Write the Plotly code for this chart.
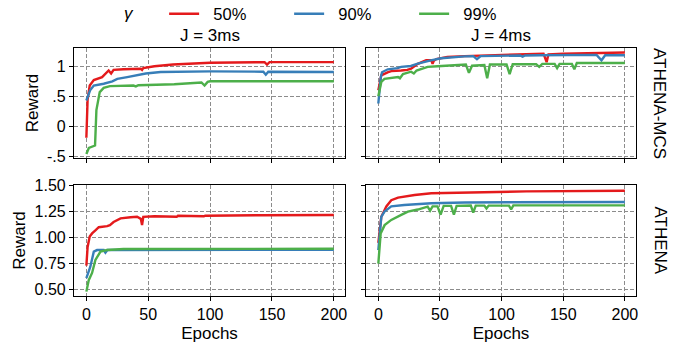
import plotly.graph_objects as go

# ---------------- data ----------------
gammas = ["50%", "90%", "99%"]
colors = ["#e41a1c", "#377eb8", "#4daf4a"]
col_titles = ["J = 3ms", "J = 4ms"]
row_titles = ["ATHENA-MCS", "ATHENA"]
x_ticks = [0, 50, 100, 150, 200]
mcs_ticks = [-0.5, 0, 0.5, 1]
mcs_tick_labels = ["-.5", "0", ".5", "1"]
ath_ticks = [0.5, 0.75, 1.0, 1.25, 1.5]
ath_tick_labels = ["0.50", "0.75", "1.00", "1.25", "1.50"]

# ATHENA-MCS, J = 3ms
mcs3_g50_x = [0, 1, 2.7, 6, 12.7, 16, 18, 20, 22, 30, 44, 45, 46, 55, 70, 100, 144, 146, 148, 200]
mcs3_g50_y = [-0.19, 0.45, 0.68, 0.77, 0.82, 0.88, 0.93, 0.88, 0.94, 0.95, 0.96, 0.94, 0.97, 1.0, 1.03, 1.06, 1.07, 1.03, 1.07, 1.07]
mcs3_g90_x = [0, 3, 6, 14, 21, 25, 33, 48, 60, 71, 100, 143, 145, 147, 200]
mcs3_g90_y = [0.43, 0.6, 0.68, 0.71, 0.75, 0.79, 0.82, 0.88, 0.905, 0.91, 0.915, 0.91, 0.86, 0.91, 0.905]
mcs3_g99_x = [0, 2, 7, 8.1, 10.8, 14, 19, 38, 40, 42, 71, 93, 95.5, 98, 100, 200]
mcs3_g99_y = [-0.46, -0.36, -0.32, 0.27, 0.57, 0.64, 0.67, 0.68, 0.665, 0.685, 0.7, 0.73, 0.68, 0.74, 0.75, 0.75]

# ATHENA-MCS, J = 4ms
mcs4_g50_x = [0, 2.4, 7.5, 10.5, 18.5, 23.5, 26.6, 32, 38.8, 43, 44, 45, 47, 51, 56, 70, 104, 134, 136.5, 138, 150, 200]
mcs4_g50_y = [0.6, 0.85, 0.9, 0.92, 0.93, 0.94, 0.96, 1.04, 1.1, 1.1, 1.04, 1.09, 1.12, 1.14, 1.155, 1.17, 1.19, 1.21, 1.07, 1.2, 1.21, 1.23]
mcs4_g90_x = [0, 2, 3, 7.7, 15.6, 18.5, 26.4, 32, 42.6, 51, 70, 77, 80, 83, 115, 117, 119, 131, 177, 181, 184, 200]
mcs4_g90_y = [0.38, 0.82, 0.9, 0.95, 0.97, 0.99, 1.005, 1.044, 1.1, 1.135, 1.165, 1.17, 1.12, 1.17, 1.18, 1.16, 1.18, 1.185, 1.19, 1.1, 1.185, 1.185]
mcs4_g99_x = [0, 2.4, 5, 16, 17.5, 20, 26.6, 28.8, 31, 34.5, 40, 48, 66, 71, 73.5, 76, 86, 88.3, 90.5, 104, 106.5, 109,
              128, 130.5, 133, 143, 145, 147, 157, 159, 161, 200]
mcs4_g99_y = [0.5, 0.74, 0.79, 0.82, 0.8, 0.87, 0.91, 0.88, 0.93, 0.95, 0.99, 1.0, 1.03, 1.03, 0.89, 1.01, 1.02, 0.8, 1.03, 1.03, 0.87, 1.035,
              1.035, 0.99, 1.04, 1.04, 0.97, 1.04, 1.04, 0.95, 1.055, 1.055]

# ATHENA, J = 3ms
ath3_g50_x = [0, 1, 2.7, 4.6, 7.3, 10, 16.8, 19, 22, 27.6, 35.7, 41, 44, 45, 46, 55, 73, 74, 95, 96, 140, 141, 200]
ath3_g50_y = [0.73, 0.91, 1.01, 1.04, 1.07, 1.1, 1.11, 1.12, 1.15, 1.185, 1.195, 1.2, 1.18, 1.12, 1.2, 1.205, 1.2, 1.21, 1.205, 1.21, 1.215, 1.215, 1.218]
ath3_g90_x = [0, 3.2, 6, 8.6, 14, 15.4, 17, 200]
ath3_g90_y = [0.61, 0.72, 0.865, 0.88, 0.88, 0.855, 0.88, 0.882]
ath3_g99_x = [0, 1.9, 4.6, 7.3, 11.4, 16.8, 30, 200]
ath3_g99_y = [0.48, 0.59, 0.66, 0.785, 0.865, 0.88, 0.89, 0.892]

# ATHENA, J = 4ms
ath4_g50_x = [0, 2.4, 6.5, 10.5, 16, 29.4, 43, 70, 120, 200]
ath4_g50_y = [0.95, 1.2, 1.3, 1.36, 1.385, 1.41, 1.426, 1.435, 1.445, 1.45]
ath4_g90_x = [0, 2.4, 5, 10.5, 21, 43, 70, 200]
ath4_g90_y = [0.88, 1.2, 1.25, 1.3, 1.314, 1.33, 1.338, 1.343]
ath4_g99_x = [0, 1.9, 5.1, 10.5, 18.6, 24, 32, 40, 42, 44, 48, 50.5, 53, 59, 61.3, 63.5, 75, 77, 79, 86, 87.7, 89.5,
              106, 107.7, 109.5, 200]
ath4_g99_y = [0.75, 1.04, 1.12, 1.17, 1.218, 1.25, 1.27, 1.298, 1.26, 1.3, 1.3, 1.22, 1.305, 1.305, 1.22, 1.305, 1.308, 1.24,
              1.308, 1.308, 1.28, 1.308, 1.308, 1.27, 1.31, 1.31]

panels = [
    ("x", "y", [(mcs3_g50_x, mcs3_g50_y), (mcs3_g90_x, mcs3_g90_y), (mcs3_g99_x, mcs3_g99_y)]),
    ("x2", "y2", [(mcs4_g50_x, mcs4_g50_y), (mcs4_g90_x, mcs4_g90_y), (mcs4_g99_x, mcs4_g99_y)]),
    ("x3", "y3", [(ath3_g50_x, ath3_g50_y), (ath3_g90_x, ath3_g90_y), (ath3_g99_x, ath3_g99_y)]),
    ("x4", "y4", [(ath4_g50_x, ath4_g50_y), (ath4_g90_x, ath4_g90_y), (ath4_g99_x, ath4_g99_y)]),
]

# ---------------- figure ----------------
W, H = 678, 343
FONT = "Liberation Sans, Arial, sans-serif"
fig = go.Figure()

for pi, (xa, ya, series) in enumerate(panels):
    for si, (xs, ys) in enumerate(series):
        fig.add_trace(go.Scatter(
            x=xs, y=ys, mode="lines", xaxis=xa, yaxis=ya,
            line=dict(color=colors[si], width=2.4),
            name="&nbsp;&nbsp;" + gammas[si], legendgroup=gammas[si], showlegend=(pi == 0),
        ))

def px_x(p):
    return p / W

def px_y(p):
    return 1 - p / H

col_dom = [[px_x(74), px_x(345)], [px_x(366), px_x(636)]]
row_dom = [[px_y(158), px_y(48)], [px_y(296), px_y(185)]]

common = dict(
    showline=True, linecolor="black", linewidth=1.2, mirror=True,
    ticks="outside", ticklen=4, tickcolor="black", tickwidth=1.2,
    showgrid=True, gridcolor="#8c8c8c", griddash="4px,2px", gridwidth=1,
    zeroline=False, automargin=False, tickfont=dict(family=FONT, size=16, color="black"),
)
title_font = dict(family=FONT, size=17, color="black")

layout_axes = {}
axis_names = [("xaxis", "yaxis"), ("xaxis2", "yaxis2"), ("xaxis3", "yaxis3"), ("xaxis4", "yaxis4")]
anchors = [("y", "x"), ("y2", "x2"), ("y3", "x3"), ("y4", "x4")]
for i, (xn, yn) in enumerate(axis_names):
    r, c = divmod(i, 2)
    xa = dict(common, domain=col_dom[c], anchor=anchors[i][0], range=[-10, 209],
              tickvals=x_ticks, showticklabels=(r == 1))
    if r == 1:
        xa["title"] = dict(text="Epochs", font=title_font, standoff=5)
    if r == 0:
        ya = dict(common, domain=row_dom[r], anchor=anchors[i][1], range=[-0.528, 1.305],
                  tickvals=mcs_ticks, ticktext=mcs_tick_labels, showticklabels=(c == 0))
    else:
        ya = dict(common, domain=row_dom[r], anchor=anchors[i][1], range=[0.438, 1.506],
                  tickvals=ath_ticks, ticktext=ath_tick_labels, showticklabels=(c == 0))
    if c == 0:
        ya["title"] = dict(text="Reward", font=title_font, standoff=4)
    layout_axes[xn] = xa
    layout_axes[yn] = ya

annotations = []
for c, t in enumerate(col_titles):
    annotations.append(dict(text=t, x=(col_dom[c][0] + col_dom[c][1]) / 2, y=px_y(35), xref="paper", yref="paper",
                            showarrow=False, xanchor="center", yanchor="middle", font=title_font))
for r, t in enumerate(row_titles):
    annotations.append(dict(text=t, x=px_x(660), y=(row_dom[r][0] + row_dom[r][1]) / 2, xref="paper", yref="paper",
                            showarrow=False, xanchor="center", yanchor="middle", textangle=90, font=title_font))

fig.update_layout(
    width=W, height=H,
    margin=dict(l=0, r=0, t=0, b=0, autoexpand=False),
    paper_bgcolor="white", plot_bgcolor="white",
    font=dict(family=FONT, size=16, color="black"),
    showlegend=True,
    legend=dict(
        orientation="h", x=px_x(122), xanchor="left", y=px_y(14), yanchor="middle",
        title=dict(text="<i>γ</i>&nbsp;&nbsp;&nbsp;&nbsp;&nbsp;", side="left",
                   font=dict(family=FONT, size=17, color="black")),
        entrywidth=80, bgcolor="rgba(0,0,0,0)", font=dict(family=FONT, size=16.5, color="black"),
    ),
    annotations=annotations,
)
fig.update_layout(**layout_axes)

fig.write_html("out.html", config={"displayModeBar": False},
               post_script="document.body.style.margin='0';document.body.style.overflow='hidden';")
